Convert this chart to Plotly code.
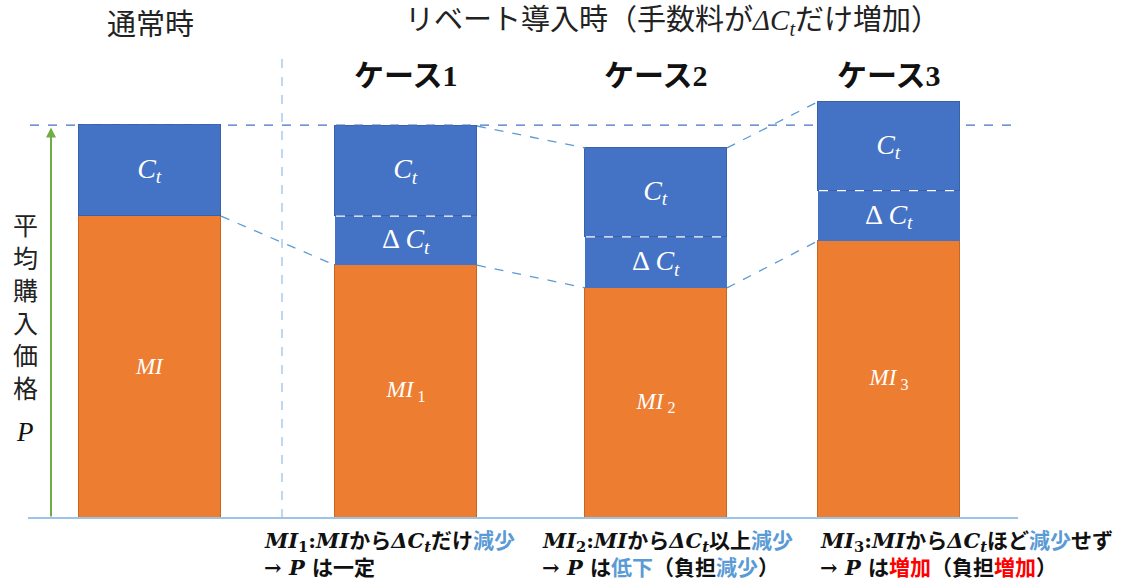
import plotly.graph_objects as go

# --- data -------------------------------------------------------------
categories = ["通常時", "ケース1", "ケース2", "ケース3"]
mi_values = [77.0, 64.5, 58.7, 70.7]        # MI segment
delta_ct_values = [0.0, 12.5, 13.0, 12.8]   # added fee ΔC_t
ct_values = [23.2, 23.0, 22.7, 22.7]        # fee C_t
mi_labels = ["<i>MI</i>", "<i>MI</i><sub> 1</sub>", "<i>MI</i><sub> 2</sub>", "<i>MI</i><sub> 3</sub>"]

# --- layout constants ---------------------------------------------------
W, H = 1139, 585
x_pos = [150, 406, 656, 889]
bar_w = 142
y_range = [-17.09, 132.14]
ORANGE = "#ED7D31"
BLUE = "#4472C4"
LBLUE = "#5B9BD5"
PALE = "#9DC3E6"
SERIF = "Liberation Serif, Noto Sans CJK JP"
NOTE_FONT = "DejaVu Serif, Noto Sans CJK JP"

def py(v_px):
    """paper y from pixel row"""
    return 1 - v_px / H

def px_(x):
    return x / W

fig = go.Figure()

# reference lines drawn under the bars
top0 = mi_values[0] + delta_ct_values[0] + ct_values[0]
fig.add_trace(go.Scatter(x=[30, 1018], y=[top0, top0], mode="lines",
                         line=dict(color=BLUE, width=1.3, dash="dash"),
                         hoverinfo="skip", showlegend=False))
fig.add_trace(go.Scatter(x=[282, 282], y=[0, 117.3], mode="lines",
                         line=dict(color=PALE, width=1.3, dash="dash"),
                         hoverinfo="skip", showlegend=False))

# connectors between adjacent bars
tops = [m + d + c for m, d, c in zip(mi_values, delta_ct_values, ct_values)]
for i in range(3):
    xa = x_pos[i] + bar_w / 2
    xb = x_pos[i + 1] - bar_w / 2
    fig.add_trace(go.Scatter(x=[xa, xb], y=[mi_values[i], mi_values[i + 1]], mode="lines",
                             line=dict(color=LBLUE, width=1.3, dash="dash"),
                             hoverinfo="skip", showlegend=False))
    if i >= 1:
        fig.add_trace(go.Scatter(x=[xa, xb], y=[tops[i], tops[i + 1]], mode="lines",
                                 line=dict(color=LBLUE, width=1.3, dash="dash"),
                                 hoverinfo="skip", showlegend=False))

# stacked bars
fig.add_trace(go.Bar(x=x_pos, y=mi_values, width=bar_w, marker=dict(color=ORANGE, line=dict(color="#C9651F", width=1)),
                     text=mi_labels, textposition="inside", insidetextanchor="middle",
                     textfont=dict(family=SERIF, size=23, color="white"),
                     hoverinfo="skip", showlegend=False))
fig.add_trace(go.Bar(x=x_pos, y=delta_ct_values, width=bar_w, marker=dict(color=BLUE, line=dict(color=BLUE, width=0)),
                     text=["" if d == 0 else "Δ <i>C<sub>t</sub></i>" for d in delta_ct_values],
                     textposition="inside", insidetextanchor="middle",
                     textfont=dict(family=SERIF, size=28, color="white"),
                     hoverinfo="skip", showlegend=False))
fig.add_trace(go.Bar(x=x_pos, y=ct_values, width=bar_w, marker=dict(color=BLUE, line=dict(color="#3A62AA", width=1)),
                     text=["<i>C<sub>t</sub></i>"] * 4, textposition="inside", insidetextanchor="middle",
                     textfont=dict(family=SERIF, size=28, color="white"),
                     hoverinfo="skip", showlegend=False))

# white dashed divider between ΔC_t and C_t
shapes = []
for x, m, d in zip(x_pos, mi_values, delta_ct_values):
    if d > 0:
        shapes.append(dict(type="line", xref="x", yref="y", x0=x - bar_w / 2 + 1, x1=x + bar_w / 2 - 1,
                           y0=m + d, y1=m + d, line=dict(color="white", width=1.2, dash="dash")))
# baseline
shapes.append(dict(type="line", xref="x", yref="y", x0=28, x1=1018, y0=0, y1=0,
                   line=dict(color=PALE, width=2)))

annotations = []
# green vertical arrow
annotations.append(dict(x=51, y=99.6, ax=51, ay=0, xref="x", yref="y", axref="x", ayref="y",
                        showarrow=True, arrowhead=2, arrowsize=1, arrowwidth=2, arrowcolor="#70AD47", text=""))


def label(x, y, text, size, color="#222", xanchor="center", family=SERIF):
    annotations.append(dict(x=px_(x), y=py(y), xref="paper", yref="paper", text=text, showarrow=False,
                            xanchor=xanchor, yanchor="middle",
                            font=dict(family=family, size=size, color=color)))


# headings
label(150, 25, "通常時", 29)
label(672, 22, "リベート導入時（手数料が<i>ΔC<sub>t</sub></i>だけ増加）", 29)
for c, x in zip(categories[1:], x_pos[1:]):
    label(x, 76, "<b>" + c + "</b>", 30, color="#111")
# y label
label(25, 308, "平<br>均<br>購<br>入<br>価<br>格", 25)
label(25, 432, "<i>P</i>", 27, color="#111")

# notes under the cases
LB = "#5B9BD5"
RED = "#FF0000"
notes = [
    ("<b><i>MI</i><sub>1</sub>:<i>MI</i>から<i>ΔC<sub>t</sub></i>だけ<span style='color:%s'>減少</span></b>" % LB,
     "<b>→ <i>P</i> は一定</b>", 262),
    ("<b><i>MI</i><sub>2</sub>:<i>MI</i>から<i>ΔC<sub>t</sub></i>以上<span style='color:%s'>減少</span></b>" % LB,
     "<b>→ <i>P</i> は<span style='color:%s'>低下</span>（負担<span style='color:%s'>減少</span>）</b>" % (LB, LB), 540),
    ("<b><i>MI</i><sub>3</sub>:<i>MI</i>から<i>ΔC<sub>t</sub></i>ほど<span style='color:%s'>減少</span>せず</b>" % LB,
     "<b>→ <i>P</i> は<span style='color:%s'>増加</span>（負担<span style='color:%s'>増加</span>）</b>" % (RED, RED), 818),
]
for l1, l2, x in notes:
    label(x, 541, l1, 21, color="#111", xanchor="left", family=NOTE_FONT)
    label(x, 567, l2, 21, color="#111", xanchor="left", family=NOTE_FONT)

fig.update_layout(
    width=W, height=H, margin=dict(l=0, r=0, t=0, b=0),
    barmode="stack", bargap=0,
    plot_bgcolor="white", paper_bgcolor="white",
    xaxis=dict(range=[0, W], visible=False, fixedrange=True),
    yaxis=dict(range=y_range, visible=False, fixedrange=True),
    shapes=shapes, annotations=annotations,
)

fig.write_html("out.html")
